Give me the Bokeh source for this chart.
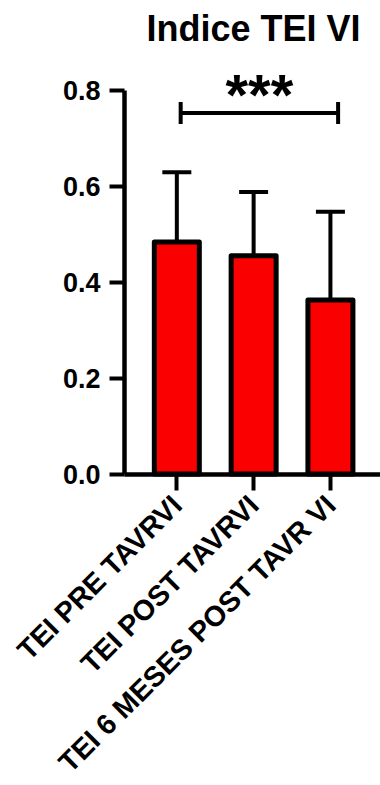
import math
from bokeh.plotting import figure
from bokeh.models import (ColumnDataSource, Range1d, FixedTicker, Whisker, TeeHead,
                          NumeralTickFormatter)
from bokeh.core.properties import value
from bokeh.embed import file_html
from bokeh.resources import INLINE

# ---- data ----
categories = ["TEI PRE TAVRVI", "TEI POST TAVRVI", "TEI 6 MESES POST TAVR VI"]
means = [0.484, 0.455, 0.363]
upper = [0.629, 0.588, 0.547]          # mean + SD
y_ticks = [0.0, 0.2, 0.4, 0.6, 0.8]
sig_text = "***"
sig_groups = (0, 2)
sig_level = 0.753

FONT = "Liberation Sans"
positions = list(range(len(categories)))

# layout of the plotting area (in axis units)
X_START, X_END = -2.296, 2.652     # visible x span
AXIS_X = -0.681                    # where the y axis is drawn
Y_START, Y_END = -0.6493, 0.8768   # visible y span (room below 0 for labels)

src = ColumnDataSource(dict(x=positions, cat=categories, mean=means, upper=upper))

# The frame fills the canvas; both axes are pinned (fixed_location) so that the
# tick labels and the rotated category labels are drawn inside the frame.
p = figure(width=380, height=785, output_backend="svg", toolbar_location=None,
           x_range=Range1d(X_START, X_END), y_range=Range1d(Y_START, Y_END),
           min_border_left=0, min_border_right=0, min_border_top=53,
           min_border_bottom=0, title="Indice TEI VI")

p.title.text_font = FONT
p.title.text_font_size = "36px"
p.title.text_font_style = "bold"
p.title.align = "left"
p.title.offset = 146
p.title.text_color = "black"

p.outline_line_color = None
p.xgrid.visible = False
p.ygrid.visible = False
p.background_fill_color = "white"
p.border_fill_color = "white"

# bars
p.vbar(x="x", top="mean", bottom=0, width=0.586, source=src,
       fill_color="#FA0000", line_color="black", line_width=5, line_join="round")

# error bars (upward only)
wh = Whisker(source=src, base="x", lower="mean", upper="upper",
             line_color="black", line_width=4,
             upper_head=TeeHead(size=29, line_color="black", line_width=4),
             lower_head=None, level="underlay")
p.add_layout(wh)

# significance bracket
lo = sig_groups[0] + 0.05
hi = sig_groups[1] + 0.1
br_src = ColumnDataSource(dict(y=[sig_level], lo=[lo], hi=[hi], mid=[(lo + hi) / 2],
                               txt=[sig_text]))
br = Whisker(source=br_src, base="y", lower="lo", upper="hi", dimension="width",
             line_color="black", line_width=4,
             upper_head=TeeHead(size=22, line_color="black", line_width=4),
             lower_head=TeeHead(size=22, line_color="black", line_width=4))
p.add_layout(br)
p.text(x="mid", y="y", text="txt", source=br_src, text_font=value(FONT),
       text_font_size="58px", text_font_style="bold", text_align="center",
       text_baseline="alphabetic", y_offset=-18, text_color="black")

# y axis
ya = p.yaxis[0]
ya.fixed_location = AXIS_X
ya.ticker = FixedTicker(ticks=y_ticks)
ya.formatter = NumeralTickFormatter(format="0.0")
ya.bounds = (0, 0.8)
ya.minor_tick_line_color = None
ya.major_tick_in = 0
ya.major_tick_out = 15
ya.major_tick_line_width = 4
ya.axis_line_width = 4.5
ya.axis_line_color = "black"
ya.major_tick_line_color = "black"
ya.major_label_text_font = FONT
ya.major_label_text_font_size = "27px"
ya.major_label_text_font_style = "bold"
ya.major_label_text_color = "black"
ya.major_label_standoff = 9

# x axis with rotated category labels, drawn at y = 0
xa = p.xaxis[0]
xa.fixed_location = 0
xa.bounds = (AXIS_X, X_END)
xa.ticker = FixedTicker(ticks=positions)
xa.major_label_overrides = {i: c for i, c in zip(positions, categories)}
xa.major_label_orientation = math.pi / 4
xa.minor_tick_line_color = None
xa.major_tick_in = 0
xa.major_tick_out = 16
xa.major_tick_line_width = 4
xa.axis_line_width = 4.5
xa.axis_line_color = "black"
xa.major_tick_line_color = "black"
xa.major_label_text_font = FONT
xa.major_label_text_font_size = "28.5px"
xa.major_label_text_font_style = "bold"
xa.major_label_text_color = "black"
xa.major_label_standoff = 10

open("out.html", "w").write(file_html(p, INLINE))
